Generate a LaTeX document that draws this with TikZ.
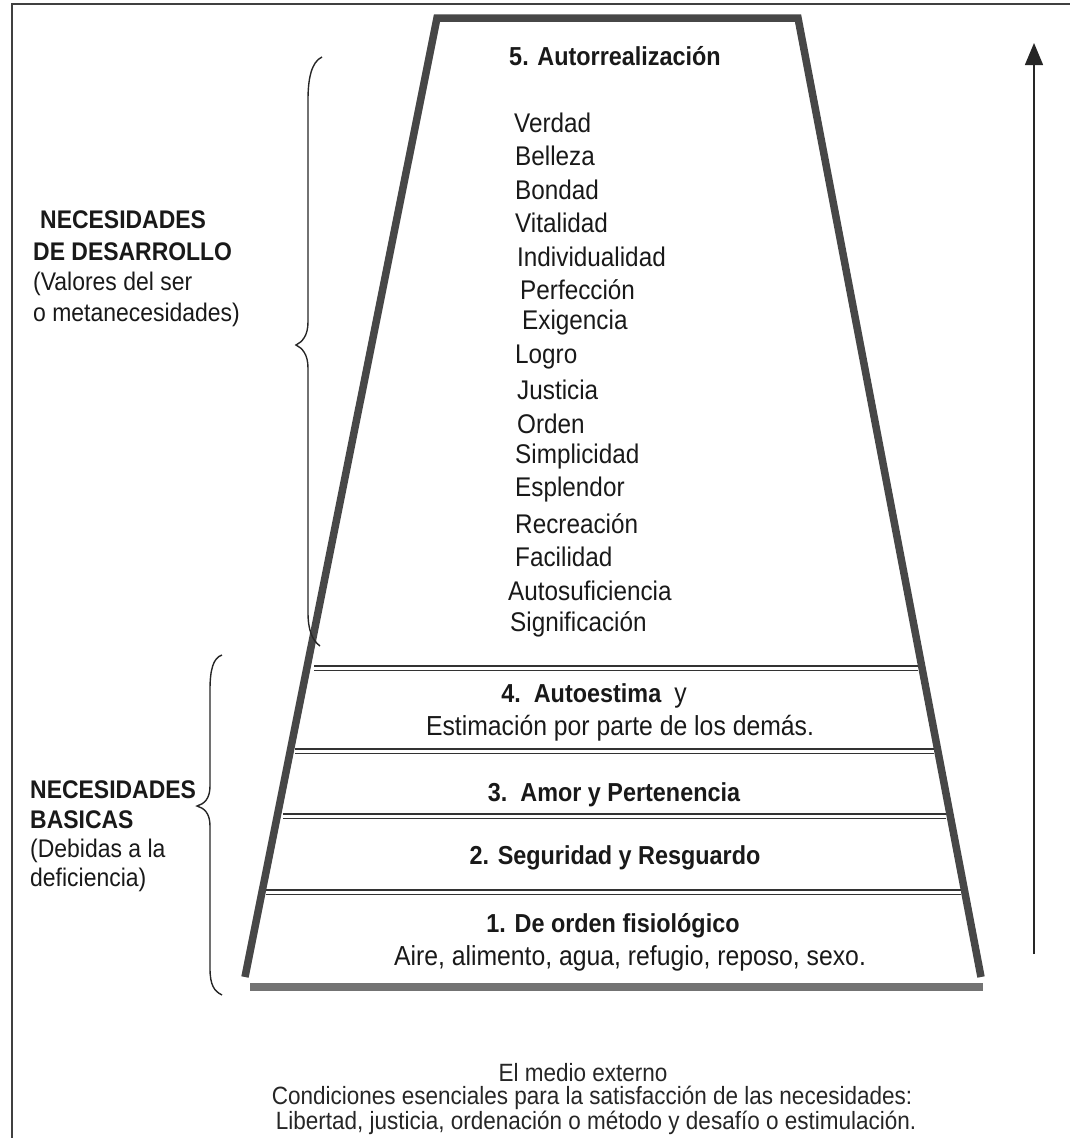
\documentclass[tikz,border=0pt]{standalone}
\usepackage{fontspec}
\setmainfont{Liberation Sans}[FakeStretch=0.9]
\usetikzlibrary{arrows.meta}
\begin{document}
\begin{tikzpicture}[x=1pt,y=-1pt,
  frameline/.style={line width=1.5pt, draw=black!75},
  side/.style={line width=7.5pt, draw=black!72, line join=miter},
  basebar/.style={line width=8pt, draw=black!55},
  divider/.style={draw=black!80, line width=1.1pt, double=white, double distance=3pt},
  brace/.style={line width=1.4pt, draw=black!85},
  txt/.style={font=\fontsize{27.5}{30}\selectfont, inner sep=0pt, text=black!90},
  btxt/.style={font=\bfseries\fontsize{26}{30}\selectfont, inner sep=0pt, text=black!90},
  item/.style={font=\fontsize{27}{30}\selectfont, inner sep=0pt, text=black!90, anchor=west},
  lab/.style={font=\fontsize{25.5}{30}\selectfont, inner sep=0pt, anchor=west, text=black!90},
  blab/.style={font=\bfseries\fontsize{25.5}{30}\selectfont, inner sep=0pt, anchor=west, text=black!90},
  small/.style={font=\fontsize{25}{28}\selectfont, inner sep=0pt, text=black!85},
  uparrow/.style={line width=1.4pt, draw=black!85, -{Triangle[width=18pt,length=22pt]}}
]
\useasboundingbox (0,0) rectangle (1070,1138);
% frame (left and top edges)
\draw[frameline] (12,1138) -- (12,4) -- (1070,4);

% pyramid
\coordinate (TL) at (437,18);
\coordinate (TR) at (798,18);
\coordinate (BL) at (245,977);
\coordinate (BR) at (981,977);
\draw[side] (BL) -- (TL) -- (TR) -- (BR);
\coordinate (BB1) at (250,987);
\coordinate (BB2) at (983,987);
\draw[basebar] (BB1) -- (BB2);

% dividers
\coordinate (d1l) at (314,668); \coordinate (d1r) at (918,668);
\coordinate (d2l) at (295,751); \coordinate (d2r) at (934,751);
\coordinate (d3l) at (283,816); \coordinate (d3r) at (946,816);
\coordinate (d4l) at (266,892); \coordinate (d4r) at (961,892);
\draw[divider] (d1l) -- (d1r);
\draw[divider] (d2l) -- (d2r);
\draw[divider] (d3l) -- (d3r);
\draw[divider] (d4l) -- (d4r);

% arrow
\coordinate (A0) at (1034,954);
\coordinate (A1) at (1034,43);
\draw[uparrow] (A0) -- (A1);

% braces
\draw[brace] (322,57) .. controls (311,62) and (308,80) .. (308,100) -- (308,322)
  .. controls (308,336) and (302,342) .. (296,345)
  .. controls (302,348) and (308,354) .. (308,368) -- (308,612)
  .. controls (308,630) and (312,640) .. (320,646);
\draw[brace] (222,655) .. controls (213,658) and (210,670) .. (210,690) -- (210,786)
  .. controls (210,799) and (204,804) .. (197,806)
  .. controls (204,808) and (210,813) .. (210,826) -- (210,968)
  .. controls (210,985) and (214,991) .. (222,995);

% level 5
\node[btxt] (h5) at (615,56) {5. Autorrealización};
\node[item] (i1) at (514,123) {Verdad};
\node[item] (i2) at (515,156) {Belleza};
\node[item] (i3) at (515,190) {Bondad};
\node[item] (i4) at (515,223) {Vitalidad};
\node[item] (i5) at (517,257) {Individualidad};
\node[item] (i6) at (520,290) {Perfección};
\node[item] (i7) at (522,323) {Exigencia};
\node[item] (i8) at (515,357) {Logro};
\node[item] (i9) at (517,390) {Justicia};
\node[item] (i10) at (517,424) {Orden};
\node[item] (i11) at (515,457) {Simplicidad};
\node[item] (i12) at (515,490) {Esplendor};
\node[item] (i13) at (515,524) {Recreación};
\node[item] (i14) at (515,557) {Facilidad};
\node[item] (i15) at (508,591) {Autosuficiencia};
\node[item] (i16) at (510,624) {Significación};

% level 4
\node[txt] (h4) at (594,696) {\bfseries\fontsize{26}{30}\selectfont 4.\ \ Autoestima\ \ \mdseries\fontsize{27.5}{30}\selectfont y};
\node[txt] (h4b) at (620,728) {Estimación por parte de los demás.};
% level 3
\node[btxt] (h3) at (614,795) {3.\ \ Amor y Pertenencia};
% level 2
\node[btxt] (h2) at (615,858) {2. Seguridad y Resguardo};
% level 1
\node[btxt] (h1) at (613,926) {1. De orden fisiológico};
\node[txt] (h1b) at (630,958) {Aire, alimento, agua, refugio, reposo, sexo.};

% left labels
\node[blab] (L1) at (40,220) {NECESIDADES};
\node[blab] (L2) at (33,252) {DE DESARROLLO};
\node[lab] (L3) at (33,284) {(Valores del ser};
\node[lab] (L4) at (33,315) {o metanecesidades)};

\node[blab] (M1) at (30,790) {NECESIDADES};
\node[blab] (M2) at (30,820) {BASICAS};
\node[lab] (M3) at (30,851) {(Debidas a la};
\node[lab] (M4) at (30,880) {deficiencia)};

% bottom text
\node[small] (E1) at (583,1073) {El medio externo};
\node[small] (E2) at (592,1098) {Condiciones esenciales para la satisfacción de las necesidades:};
\node[small] (E3) at (596,1123) {Libertad, justicia, ordenación o método y desafío o estimulación.};
\end{tikzpicture}
\end{document}
